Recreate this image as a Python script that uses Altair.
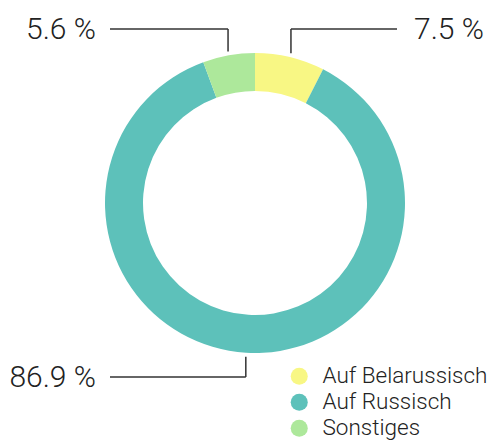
import altair as alt
import pandas as pd

categories = ["Auf Belarussisch", "Auf Russisch", "Sonstiges"]
values = [7.5, 86.9, 5.6]
colors = ["#F8F784", "#5DC1BA", "#ADE89B"]

df = pd.DataFrame({"cat": categories, "value": values, "idx": list(range(len(values)))})

FONT = "Roboto"
CX, CY = 247, 195
R_OUT, R_IN = 150, 112
R_LEAD = 154
TOP_Y, BOT_Y = 21, 369
LEFT_END, RIGHT_END = 102, 389
LEFT_TXT, RIGHT_TXT = 88, 406

base = alt.Chart(df)

donut = base.mark_arc(innerRadius=R_IN, outerRadius=R_OUT).encode(
    theta=alt.Theta("value:Q", stack=True),
    order=alt.Order("idx:Q"),
    color=alt.Color(
        "cat:N",
        scale=alt.Scale(domain=categories, range=colors),
        legend=alt.Legend(
            title=None, orient="none", legendX=280, legendY=357,
            symbolType="circle", symbolSize=290, symbolStrokeWidth=0,
            labelFont=FONT, labelFontSize=22.5, labelFontWeight=300,
            labelColor="#222222", labelOffset=12, rowPadding=3, padding=0,
            labelLimit=300,
        ),
    ),
    x=alt.value(CX),
    y=alt.value(CY),
)

lead = base.transform_joinaggregate(total="sum(value)").transform_window(
    cum="sum(value)", sort=[alt.SortField("idx")], frame=[None, 0]
).transform_calculate(
    ang="2*PI*(datum.cum - datum.value/2)/datum.total"
).transform_calculate(
    x0=f"{CX} + {R_LEAD}*sin(datum.ang)",
    y0=f"{CY} - {R_LEAD}*cos(datum.ang)",
    ly=f"cos(datum.ang) > 0 ? {TOP_Y} : {BOT_Y}",
    lx=f"sin(datum.ang) < 0 ? {LEFT_END} : {RIGHT_END}",
    tx=f"sin(datum.ang) < 0 ? {LEFT_TXT} : {RIGHT_TXT}",
    side="sin(datum.ang) < 0 ? 'L' : 'R'",
    label="format(datum.value, '.1f') + ' %'",
)

vert = lead.mark_rule(color="#333333", strokeWidth=1.5).encode(
    x=alt.X("x0:Q", scale=None, axis=None),
    y=alt.Y("y0:Q", scale=None, axis=None),
    y2="ly:Q",
)
horiz = lead.mark_rule(color="#333333", strokeWidth=1.5).encode(
    x=alt.X("x0:Q", scale=None, axis=None),
    x2="lx:Q",
    y=alt.Y("ly:Q", scale=None, axis=None),
)
txt_l = lead.transform_filter("datum.side == 'L'").mark_text(
    align="right", baseline="middle", font=FONT, fontSize=30, fontWeight=300,
    color="#222222", dy=1,
).encode(
    x=alt.X("tx:Q", scale=None, axis=None),
    y=alt.Y("ly:Q", scale=None, axis=None),
    text="label:N",
)
txt_r = lead.transform_filter("datum.side == 'R'").mark_text(
    align="left", baseline="middle", font=FONT, fontSize=30, fontWeight=300,
    color="#222222", dy=1,
).encode(
    x=alt.X("tx:Q", scale=None, axis=None),
    y=alt.Y("ly:Q", scale=None, axis=None),
    text="label:N",
)

chart = alt.layer(donut, vert, horiz, txt_l, txt_r).properties(
    width=488, height=432, autosize=alt.AutoSizeParams(type="none"), padding=0
).configure_view(stroke=None)

chart.save("out.html", embed_options={"renderer": "svg", "actions": False})
